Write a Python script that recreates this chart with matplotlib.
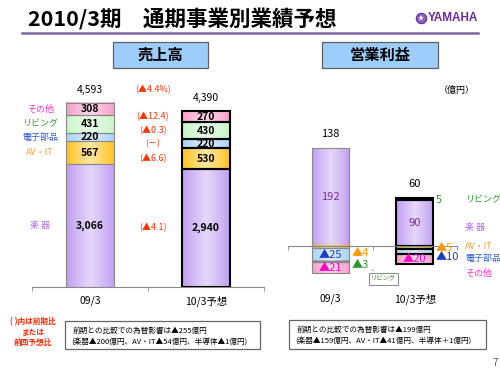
import numpy as np
import matplotlib
matplotlib.use("Agg")
import matplotlib.pyplot as plt
import matplotlib.colors as mcolors
from matplotlib.patches import Rectangle
from matplotlib.lines import Line2D

plt.rcParams['font.family'] = ['Noto Sans CJK JP', 'DejaVu Sans']

# ---- data ----
segments = ['楽 器', 'AV・IT', '電子部品', 'リビング', 'その他']
periods = ['09/3', '10/3予想']
sales_0903 = [3066, 567, 220, 431, 308]
sales_1003 = [2940, 530, 220, 430, 270]
sales_total = [4593, 4390]
sales_change = ['▲4.1', '▲6.6', '－', '▲0.3', '▲12.4']
sales_total_change = '▲4.4%'
op_0903 = [192, -4, -25, -3, -21]
op_1003 = [90, -5, -10, 5, -20]
op_total = [138, 60]

seg_colors = ['#bf9cf2', '#ffc21a', '#a6d2f8', '#c6f5c6', '#f79cc6']
op_colors = ['#bf9cf2', '#f5b000', '#a6d2f8', '#8a968a', '#f79cc6']
label_colors = ['#b070f0', '#ff9933', '#2f5fd0', '#2e9a2e', '#ff2fc0']
op_text_colors = ['#7a2a9a', '#ff9900', '#1a3cc8', '#2e9a2e', '#ff00cc']

# layout for profit labels: (inside/outside, vertical shift in data units)
op_lbl = [
    [('in', 0), ('out', -12), ('in', 0), ('out', -7), ('in', 0)],
    [('in', 0), ('out', -2), ('out', -12), ('out', -2), ('in', 0)],
]
op_legend_y = [37, 0, -24, 90, -53]

fig = plt.figure(figsize=(5, 3.75), dpi=100)


def fbox(x0, y0, x1, y1):
    # pixel box (from top-left) -> figure rect
    return [x0 / 500, 1 - y1 / 375, (x1 - x0) / 500, (y1 - y0) / 375]


def shaded_bar(ax, x, h, bottom, width, color, edge, lw):
    bars = ax.bar(x, h, width, bottom=bottom, color=color, edgecolor='none', zorder=2)
    c = np.array(mcolors.to_rgb(color))
    t = np.linspace(-1, 1, 64)
    k = (1 - np.abs(t)) ** 0.9 * 0.6
    img = c[None, None, :] * (1 - k[None, :, None]) + k[None, :, None]
    ax.imshow(img, extent=[x - width / 2, x + width / 2, bottom, bottom + h],
              aspect='auto', zorder=2.1, clip_path=bars[0], interpolation='bilinear')
    ax.bar(x, h, width, bottom=bottom, fill=False, edgecolor=edge, linewidth=lw, zorder=3)


# ---- title area ----
fig.text(28 / 500, 1 - 19 / 375, '2010/3期　通期事業別業績予想', fontsize=15.5,
         fontweight='bold', va='center', ha='left')
fig.add_artist(Line2D([22 / 500, 478 / 500], [1 - 33 / 375] * 2, color='#8064a2', lw=1.8))
fig.text(478 / 500, 1 - 18 / 375, 'YAMAHA', fontsize=8.5, fontweight='bold', color='#6a2c9c',
         ha='right', va='center', family=['Liberation Sans', 'DejaVu Sans'])
fig.add_artist(Line2D([421 / 500], [1 - 18 / 375], marker='o', ms=7.5, color='#8a5cb8',
                      mec='#6a2c9c', mew=0.8))
fig.add_artist(Line2D([421 / 500], [1 - 18 / 375], marker='*', ms=4.5, color='white', mew=0))

for (x0, x1, txt) in [(113, 208, '売上高'), (322, 438, '営業利益')]:
    r = fbox(x0, 42, x1, 68)
    fig.add_artist(Rectangle(r[:2], r[2], r[3], transform=fig.transFigure,
                             fc='#9dcdfb', ec='#606060', lw=0.9))
    fig.text((x0 + x1) / 2 / 500, 1 - 55 / 375, txt, fontsize=11, fontweight='bold',
             ha='center', va='center')

# ---- sales (left) ----
ax1 = fig.add_axes(fbox(32, 90, 264, 287))
w1 = 0.42
for i, vals in enumerate([sales_0903, sales_1003]):
    edge, lw = ('#888888', 0.8) if i == 0 else ('black', 1.5)
    bottom = 0
    for j, v in enumerate(vals):
        shaded_bar(ax1, i, v, bottom, w1, seg_colors[j], edge, lw)
        ax1.text(i, bottom + v / 2, f'{v:,}', ha='center', va='center', fontsize=7.5,
                 fontweight='bold', zorder=5)
        bottom += v
    ax1.text(i, sales_total[i] + 330, f'{sales_total[i]:,}', ha='center', va='center',
             fontsize=7.5)

bottom = 0
for j, v in enumerate(sales_0903):
    ax1.text(-0.43, bottom + v / 2, segments[j], ha='center', va='center', fontsize=6.5,
             color=label_colors[j])
    bottom += v

bottom = 0
for j, v in enumerate(sales_1003):
    ax1.text(0.54, bottom + v / 2, f'({sales_change[j]})', ha='center', va='center',
             fontsize=6.5, color='#ff3300')
    bottom += v
ax1.text(0.54, max(sales_total) + 340, f'({sales_total_change})', ha='center', va='center',
         fontsize=6.5, color='#ff3300')

ax1.set_xlim(-0.5, 1.5)
ax1.set_ylim(0, 4918)
ax1.set_xticks([0, 1], periods, fontsize=7.5)
ax1.set_xticks([-0.5, 0.5, 1.5], minor=True)
ax1.tick_params(axis='x', which='major', length=0, pad=6)
ax1.tick_params(axis='x', which='minor', length=3, color='#888888')
ax1.set_yticks([])
for s in ['left', 'right', 'top']:
    ax1.spines[s].set_visible(False)
ax1.spines['bottom'].set_color('#888888')
ax1.patch.set_visible(False)

# ---- operating income (right) ----
ax2 = fig.add_axes(fbox(288, 90, 457, 290))
w2 = 0.44
for i, vals in enumerate([op_0903, op_1003]):
    edge, lw = ('#888888', 0.8) if i == 0 else ('black', 1.5)
    pos, neg = 0, 0
    for j, v in enumerate(vals):
        if v >= 0:
            b = pos
            pos += v
        else:
            b = neg
            neg += v
        shaded_bar(ax2, i, v, b, w2, op_colors[j], edge, lw)
        lbl = str(v) if v >= 0 else f'▲{-v}'
        side, dy = op_lbl[i][j]
        if side == 'in':
            ax2.text(i, b + v / 2 + dy, lbl, ha='center', va='center', fontsize=8,
                     color=op_text_colors[j], zorder=5)
        else:
            ax2.text(i + 0.25, b + v / 2 + dy, lbl, ha='left', va='center', fontsize=8,
                     color=op_text_colors[j], zorder=5)
    ax2.text(i, pos + 27, str(op_total[i]), ha='center', va='center', fontsize=8)

for j, y in enumerate(op_legend_y):
    ax2.text(1.6, y, segments[j], ha='left', va='center', fontsize=6.5,
             color=label_colors[j], clip_on=False)

ax2.annotate('リビング', xy=(0.47, -43), xytext=(0.63, -64), fontsize=4.5, color='#2e9a2e',
             ha='center', va='center',
             bbox=dict(boxstyle='square,pad=0.35', fc='white', ec='#777777', lw=0.6),
             arrowprops=dict(arrowstyle='-', color='#777777', lw=0.6))

for i, p in enumerate(periods):
    ax2.text(i, -0.045, p, transform=ax2.get_xaxis_transform(), ha='center', va='center',
             fontsize=7.5)

ax2.set_xlim(-0.5, 1.5)
ax2.set_ylim(-86, 306)
ax2.spines['bottom'].set_position(('data', 0))
ax2.spines['bottom'].set_color('#888888')
ax2.spines['bottom'].set_zorder(4)
ax2.set_xticks([])
ax2.set_xticks([-0.5, 0.5, 1.5], minor=True)
ax2.tick_params(axis='x', which='minor', length=3, color='#888888', labelbottom=False)
ax2.set_yticks([])
for s in ['left', 'right', 'top']:
    ax2.spines[s].set_visible(False)
ax2.patch.set_visible(False)

fig.text(457 / 500, 1 - 90 / 375, '（億円）', fontsize=6.5, ha='center', va='center')

# ---- notes ----
fig.text(33 / 500, 1 - 332 / 375, '( )内は前期比\nまたは\n前回予想比', fontsize=5.5,
         color='#ff2200', ha='center', va='center', linespacing=1.2, fontweight='bold')

notes = [
    ((65, 321, 260, 349), '前期との比較での為替影響は▲255億円',
     '(楽器▲200億円、AV・IT▲54億円、半導体▲1億円)'),
    ((289, 320, 486, 349), '前期との比較での為替影響は▲199億円',
     '(楽器▲159億円、AV・IT▲41億円、半導体＋1億円)'),
]
for (x0, y0, x1, y1), l1, l2 in notes:
    r = fbox(x0, y0, x1, y1)
    fig.add_artist(Rectangle(r[:2], r[2], r[3], transform=fig.transFigure, fc='white',
                             ec='#666666', lw=0.9))
    fig.text((x0 + 8) / 500, 1 - (y0 + 10) / 375, l1, fontsize=5.5, ha='left', va='center')
    fig.text((x0 + 6) / 500, 1 - (y0 + 22) / 375, l2, fontsize=5.5, ha='left', va='center')

fig.text(495 / 500, 1 - 363 / 375, '7', fontsize=7, color='#555555', ha='center', va='center')

fig.savefig('out.png', dpi=100)
